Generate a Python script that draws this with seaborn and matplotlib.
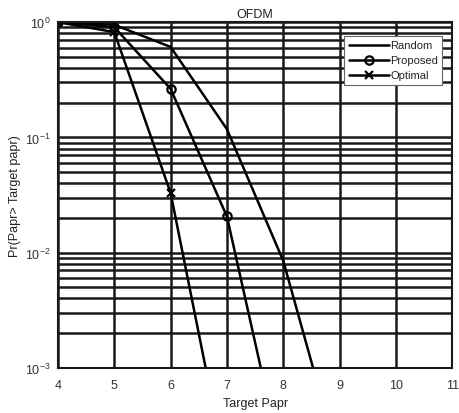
import matplotlib
matplotlib.use("Agg")
import matplotlib.pyplot as plt
import seaborn as sns
import pandas as pd
import numpy as np

sns.set_theme(style="white")
plt.rcParams['font.family'] = ['Liberation Sans', 'DejaVu Sans']
plt.rcParams['mathtext.fontset'] = 'custom'
plt.rcParams['mathtext.rm'] = 'Liberation Sans'

x_random = [4, 5, 6, 7, 8, 9]
y_random = [1.0, 0.95, 0.61, 0.118, 0.0085, 0.00015]
x_proposed = [4, 5, 6, 7, 8]
y_proposed = [1.0, 0.905, 0.264, 0.0206, 0.000135]
x_optimal = [4, 5, 6, 7]
y_optimal = [1.0, 0.82, 0.033, 0.00012]

fig = plt.figure(figsize=(4.6, 4.14), dpi=100)
ax = fig.add_axes([0.126, 0.109, 0.857, 0.835])

sns.lineplot(x=x_random, y=y_random, ax=ax, color='black', lw=1.8,
             label='Random', marker=None)
sns.lineplot(x=x_proposed, y=y_proposed, ax=ax, color='black', lw=1.8,
             label='Proposed', marker='o', markersize=6,
             markerfacecolor='none', markeredgecolor='black', markeredgewidth=1.6)
sns.lineplot(x=x_optimal, y=y_optimal, ax=ax, color='black', lw=1.8,
             label='Optimal', marker='x', markersize=6,
             markeredgecolor='black', markeredgewidth=1.6)

ax.set_yscale('log')
ax.set_xlim(4, 11)
ax.set_ylim(1e-3, 1)
ax.set_xticks([4, 5, 6, 7, 8, 9, 10, 11])
ax.yaxis.grid(True, which='both', color='#1a1a1a', lw=1.8)
ax.xaxis.grid(True, which='major', color='#1a1a1a', lw=1.8)
ax.set_axisbelow(True)
for s in ax.spines.values():
    s.set_color('#1a1a1a')
    s.set_linewidth(1.5)
ax.tick_params(axis='both', which='both', length=0, labelsize=9, colors='#333333')
ax.tick_params(axis='x', pad=8)
ax.tick_params(axis='y', pad=5)

ax.set_title('OFDM', fontsize=9, pad=4, color='#222222')
ax.set_xlabel('Target Papr', fontsize=9, labelpad=4, color='#222222')
ax.set_ylabel('Pr(Papr> Target papr)', fontsize=9, labelpad=3, color='#222222')

leg = ax.legend(loc='upper right', bbox_to_anchor=(0.975, 0.96), fontsize=8,
                frameon=True, fancybox=False, framealpha=1, edgecolor='#666666',
                handlelength=3.6, handletextpad=0.1, borderpad=0.4, labelspacing=0.45,
                borderaxespad=0)
leg.get_frame().set_linewidth(0.8)

fig.savefig('out.png', dpi=100)
